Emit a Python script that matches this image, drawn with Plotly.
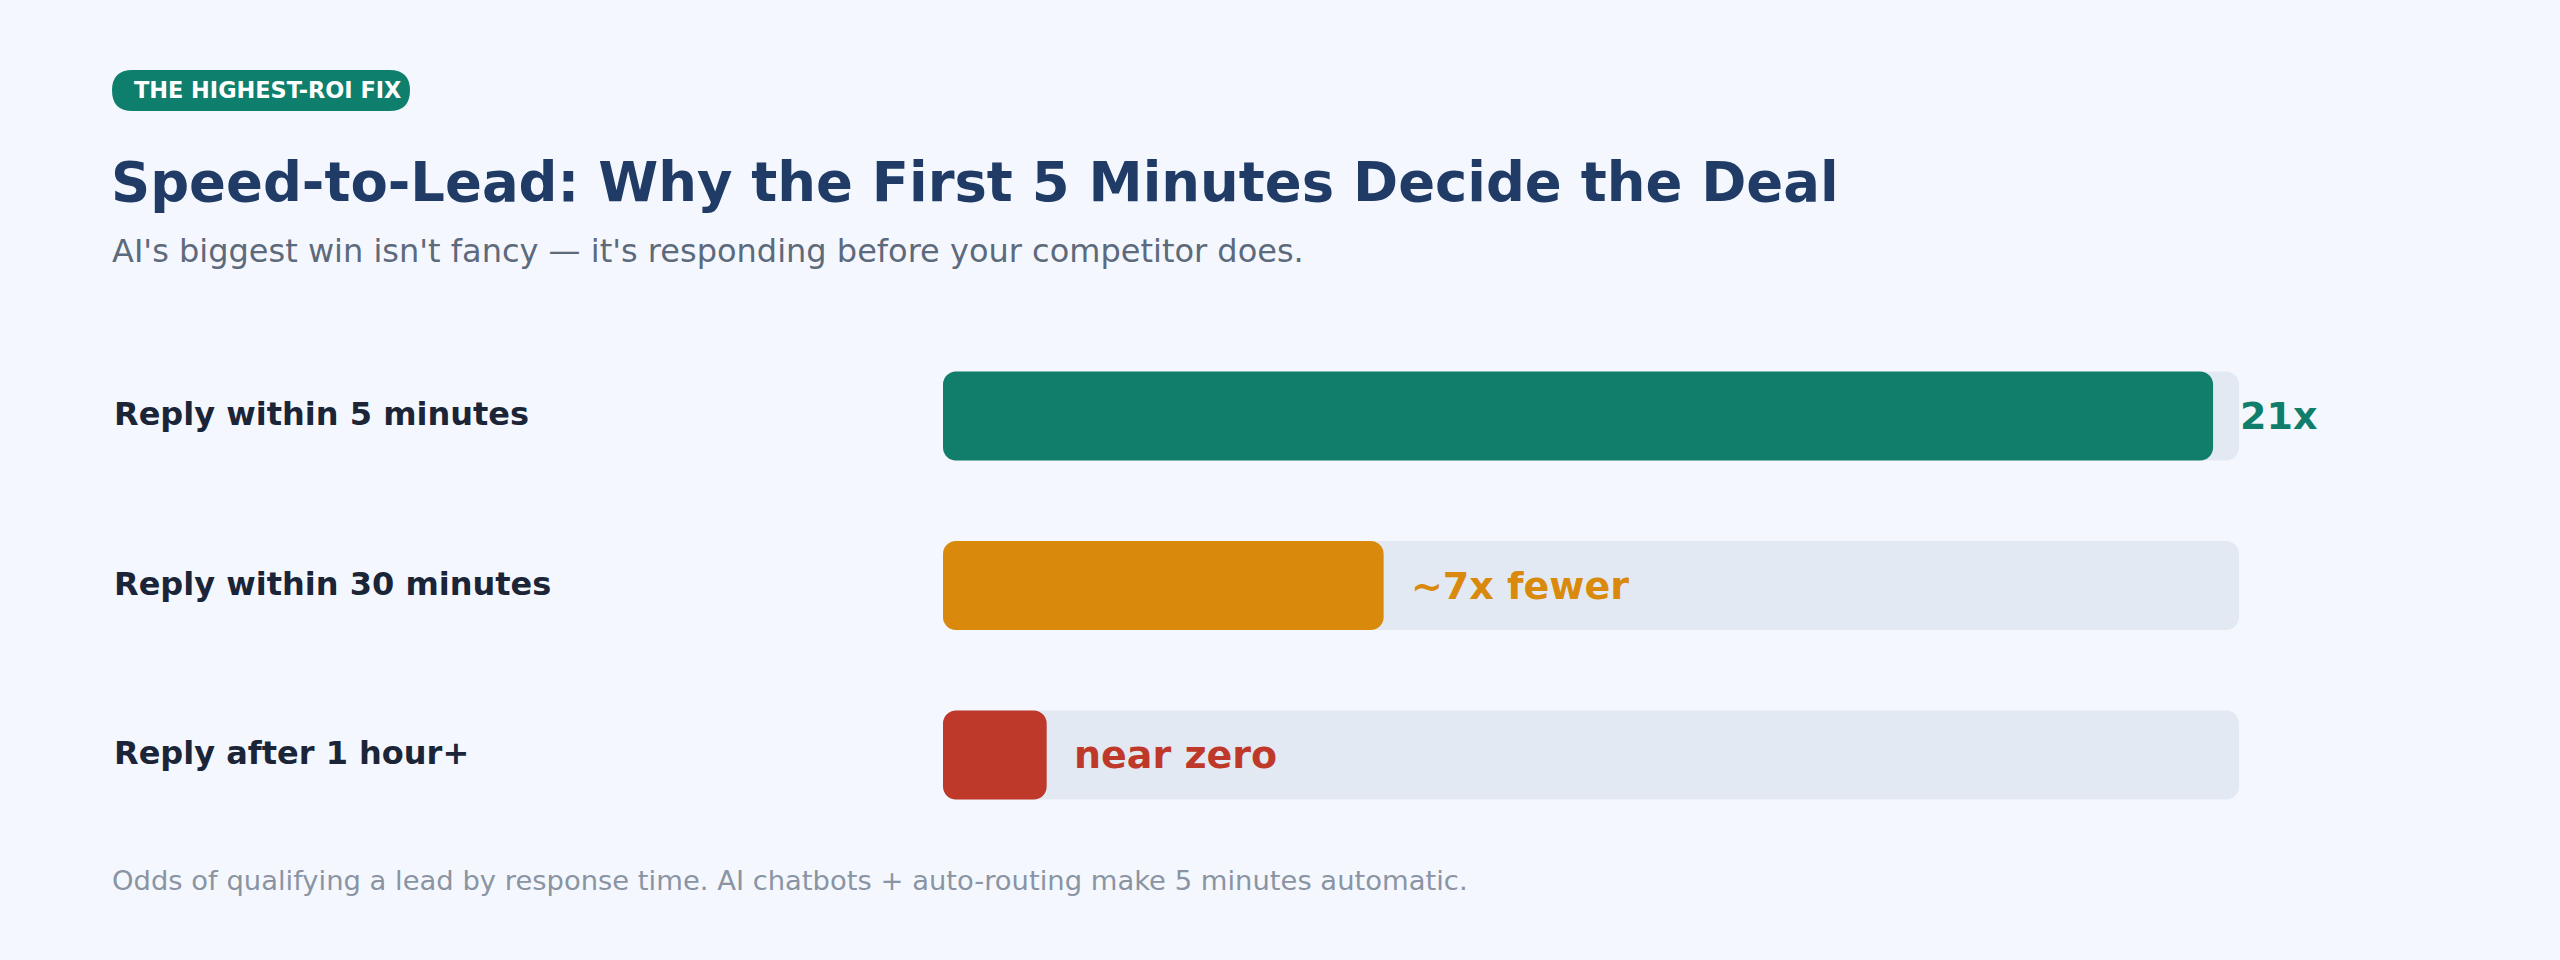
import plotly.graph_objects as go

W, H = 2560, 960

# ---- data ----
categories = ["Reply within 5 minutes", "Reply within 30 minutes", "Reply after 1 hour+"]
fill_pct = [98, 34, 8]          # filled share of the track (%)
track_pct = [100, 100, 100]
value_labels = ["21x", "~7x fewer", "near zero"]
bar_colors = ["#117e6c", "#d98a0c", "#bf392b"]
track_color = "#e3e9f2"

badge_text = "THE HIGHEST-ROI FIX"
title_text = "Speed-to-Lead: Why the First 5 Minutes Decide the Deal"
subtitle_text = "AI's biggest win isn't fancy \u2014 it's responding before your competitor does."
footnote_text = "Odds of qualifying a lead by response time. AI chatbots + auto-routing make 5 minutes automatic."

FONT = "DejaVu Sans"
BG = "#f4f8fe"
BAR_W = 0.525
RADIUS = 13


def px_x(x):
    return x / W


def px_y(y):
    return 1 - y / H


def rounded_rect_path(x0, y0, x1, y1, r):
    pts = [
        ("M", [(x0 + r, y0)]),
        ("L", [(x1 - r, y0)]),
        ("Q", [(x1, y0), (x1, y0 + r)]),
        ("L", [(x1, y1 - r)]),
        ("Q", [(x1, y1), (x1 - r, y1)]),
        ("L", [(x0 + r, y1)]),
        ("Q", [(x0, y1), (x0, y1 - r)]),
        ("L", [(x0, y0 + r)]),
        ("Q", [(x0, y0), (x0 + r, y0)]),
    ]
    s = ""
    for cmd, ps in pts:
        s += cmd + " " + " ".join(f"{px_x(a):.6f},{px_y(b):.6f}" for a, b in ps) + " "
    return s + "Z"


fig = go.Figure()


def add_rounded_bar(values, color):
    fig.add_trace(go.Bar(
        y=categories, x=values, base=[0] * len(values),
        orientation="h",
        marker=dict(color=color, cornerradius=RADIUS, line=dict(width=0)),
        width=BAR_W, hoverinfo="skip", showlegend=False))


add_rounded_bar(track_pct, track_color)
add_rounded_bar(fill_pct, bar_colors)

annotations = []
for cat, v, lab, col in zip(categories, fill_pct, value_labels, bar_colors):
    annotations.append(dict(
        x=v, y=cat, xref="x", yref="y", text=lab, showarrow=False,
        xanchor="left", yanchor="middle", xshift=25,
        font=dict(family=FONT, size=38, color=col, weight="bold")))
    annotations.append(dict(
        x=px_x(112), y=cat, xref="paper", yref="y", text=cat, showarrow=False,
        xanchor="left", yanchor="middle", yshift=2,
        font=dict(family=FONT, size=32, color="#1b2537", weight="bold")))

annotations += [
    dict(x=px_x(132), y=px_y(90.5), xref="paper", yref="paper", text=badge_text,
         showarrow=False, xanchor="left", yanchor="middle",
         font=dict(family=FONT, size=22.4, color="#ffffff", weight="bold")),
    dict(x=px_x(109), y=px_y(182), xref="paper", yref="paper", text=title_text,
         showarrow=False, xanchor="left", yanchor="middle",
         font=dict(family=FONT, size=54.4, color="#1f3b66", weight="bold")),
    dict(x=px_x(110), y=px_y(251), xref="paper", yref="paper", text=subtitle_text,
         showarrow=False, xanchor="left", yanchor="middle",
         font=dict(family=FONT, size=32, color="#5d6a7c")),
    dict(x=px_x(110), y=px_y(880), xref="paper", yref="paper", text=footnote_text,
         showarrow=False, xanchor="left", yanchor="middle",
         font=dict(family=FONT, size=27.4, color="#8a94a3")),
]

shapes = [dict(type="path", xref="paper", yref="paper",
               path=rounded_rect_path(112, 70, 410, 111, 20.5),
               fillcolor="#0f7f6d", line=dict(width=0), layer="below")]

pitch = 169.5
top = 416 - pitch / 2
bottom = 755 + pitch / 2

fig.update_layout(
    width=W, height=H, autosize=False,
    margin=dict(l=0, r=0, t=0, b=0, pad=0),
    paper_bgcolor=BG, plot_bgcolor=BG,
    barmode="overlay",
    xaxis=dict(range=[0, 100], domain=[943 / W, 2239 / W], visible=False, fixedrange=True),
    yaxis=dict(type="category", categoryorder="array", categoryarray=categories,
               range=[2.5, -0.5], domain=[1 - bottom / H, 1 - top / H],
               visible=False, fixedrange=True),
    annotations=annotations, shapes=shapes,
    showlegend=False,
)

fig.write_html("out.html", config={"displayModeBar": False},
               post_script="document.body.style.margin='0';")
